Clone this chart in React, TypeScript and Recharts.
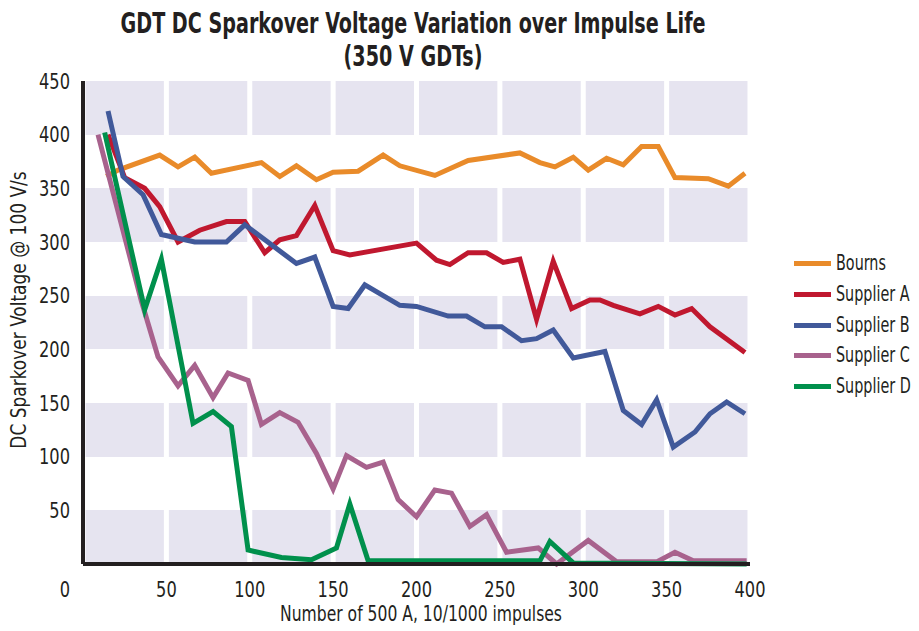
import React from 'react';
import { LineChart, Line, XAxis, YAxis, CartesianGrid, Legend } from 'recharts';

const FONT = "'Liberation Sans Narrow', 'DejaVu Sans Condensed', 'Liberation Sans', sans-serif";
const INK = '#231f20';
// horizontal squeeze applied to the text to get a narrow, condensed look
const SQUEEZE = 0.86;

// Axis ticks
const xTicks = [0, 50, 100, 150, 200, 250, 300, 350, 400];
const yTicks = [50, 100, 150, 200, 250, 300, 350, 400, 450];

// Measured DC sparkover voltage (V) against impulse count, one list per supplier: [impulses, volts]
const bourns: [number, number][] = [
  [14, 361], [21, 367], [46, 381], [57, 370], [67, 379], [77, 364], [107, 374], [118, 361],
  [128, 371], [140, 358], [150, 365], [165, 366], [180, 381], [190, 371], [211, 362], [231, 376],
  [262, 383], [274, 374], [283, 370], [294, 379], [303, 367], [314, 378], [324, 372], [335, 389],
  [345, 389], [355, 360], [375, 359], [387, 352], [397, 364],
];

const supplierA: [number, number][] = [
  [15, 400], [25, 360], [37, 350], [46, 333], [57, 300], [70, 311], [86, 319], [97, 319],
  [109, 290], [118, 302], [128, 306], [139, 334], [150, 292], [160, 288], [200, 299], [212, 283],
  [220, 279], [231, 290], [242, 290], [252, 281], [262, 284], [272, 228], [282, 282], [293, 238],
  [304, 246], [310, 246], [318, 241], [334, 233], [345, 240], [355, 232], [365, 238], [376, 221],
  [397, 197],
];

const supplierB: [number, number][] = [
  [15, 422], [24, 361], [36, 344], [47, 307], [67, 300], [86, 300], [97, 316], [128, 280],
  [139, 286], [150, 240], [159, 238], [169, 260], [190, 241], [200, 240], [219, 231], [230, 231],
  [241, 221], [251, 221], [263, 208], [272, 210], [282, 218], [294, 192], [313, 198], [324, 143],
  [335, 130], [344, 153], [354, 109], [367, 123], [376, 140], [386, 151], [397, 140],
];

const supplierC: [number, number][] = [
  [9, 400], [35, 245], [45, 193], [57, 166], [67, 185], [78, 155], [87, 178], [99, 171],
  [107, 130], [118, 141], [129, 132], [140, 103], [150, 70], [158, 101], [170, 90], [180, 95],
  [189, 60], [200, 44], [211, 69], [221, 66], [232, 35], [242, 46], [254, 11], [273, 15],
  [284, 0], [303, 22], [320, 2], [344, 2], [355, 11], [366, 3], [398, 3],
];

const supplierD: [number, number][] = [
  [13, 402], [37, 237], [47, 284], [66, 131], [78, 142], [89, 128], [99, 13], [119, 6],
  [137, 4], [152, 15], [160, 56], [171, 3], [274, 3], [280, 21], [294, 1], [398, 0],
];

const seriesNames = ['Bourns', 'Supplier A', 'Supplier B', 'Supplier C', 'Supplier D'];
const seriesColors = ['#e98b2a', '#c0182f', '#41599a', '#a8628d', '#00904c'];
const seriesPoints = [bourns, supplierA, supplierB, supplierC, supplierD];

const toRows = (pts: [number, number][]) => pts.map(([x, y]) => ({ x, y }));

// Bottom tick labels; the zero sits left of the vertical axis line
const XTick = (props: any) => {
  const { x, y, payload } = props;
  const v = payload.value;
  const cx = v === 0 ? x - 18 : x;
  return (
    <text
      transform={`translate(${cx},${y + 25}) scale(${SQUEEZE},1)`}
      textAnchor="middle"
      fill={INK}
      fontSize={21}
      fontFamily={FONT}
    >
      {v}
    </text>
  );
};

const YTick = (props: any) => {
  const { x, y, payload } = props;
  return (
    <text
      transform={`translate(${x},${y}) scale(${SQUEEZE},1)`}
      dy="0.36em"
      textAnchor="end"
      fill={INK}
      fontSize={21}
      fontFamily={FONT}
    >
      {payload.value}
    </text>
  );
};

const YTitle = () => (
  <text
    transform={`translate(26,310) rotate(-90) scale(${SQUEEZE},1)`}
    textAnchor="middle"
    fill={INK}
    fontSize={22}
    fontFamily={FONT}
  >
    DC Sparkover Voltage @ 100 V/s
  </text>
);

const XTitle = () => (
  <text
    transform="translate(421,621) scale(0.825,1)"
    textAnchor="middle"
    fill={INK}
    fontSize={21}
    fontFamily={FONT}
  >
    Number of 500 A, 10/1000 impulses
  </text>
);

const LegendContent = (props: any) => {
  const { payload } = props;
  return (
    <div style={{ fontFamily: FONT, fontSize: 21, color: INK, whiteSpace: 'nowrap', width: 125 }}>
      {(payload || []).map((p: any) => (
        <div key={p.value} style={{ height: 30.8, position: 'relative' }}>
          <span
            style={{ position: 'absolute', left: 0, top: 13, width: 37, height: 5, background: p.color }}
          />
          <span
            style={{
              position: 'absolute',
              left: 42,
              top: 0,
              lineHeight: '30.8px',
              transform: 'scaleX(0.76)',
              transformOrigin: '0 50%',
            }}
          >
            {p.value}
          </span>
        </div>
      ))}
    </div>
  );
};

export default function App() {
  return (
    <div style={{ position: 'absolute', left: 0, top: 0, width: 919, height: 631, overflow: 'hidden', background: '#fff' }}>
      <div
        style={{
          position: 'absolute',
          left: 0,
          top: 7,
          width: 826,
          textAlign: 'center',
          fontFamily: FONT,
          fontWeight: 'bold',
          fontSize: 28,
          lineHeight: '33px',
          color: INK,
          transform: 'scaleX(0.76)',
          transformOrigin: '413px 0',
        }}
      >
        <div>GDT DC Sparkover Voltage Variation over Impulse Life</div>
        <div>(350 V GDTs)</div>
      </div>
      <LineChart width={919} height={631} margin={{ top: 81, right: 169, left: 0, bottom: 0 }}>
        <CartesianGrid
          horizontal={(p: any) => <g key={p.key} />}
          horizontalFill={['#e6e4f0', '#ffffff']}
          stroke="#ffffff"
          strokeWidth={5}
        />
        <XAxis
          type="number"
          dataKey="x"
          domain={[0, 400]}
          ticks={xTicks}
          height={67}
          tickLine={false}
          axisLine={{ stroke: INK, strokeWidth: 4 }}
          tick={<XTick />}
          label={<XTitle />}
        />
        <YAxis
          type="number"
          domain={[0, 450]}
          ticks={yTicks}
          width={83}
          tickLine={false}
          tickMargin={7}
          axisLine={{ stroke: INK, strokeWidth: 4 }}
          tick={<YTick />}
          label={<YTitle />}
        />
        {seriesPoints.map((pts, i) => (
          <Line
            key={seriesNames[i]}
            data={toRows(pts)}
            dataKey="y"
            name={seriesNames[i]}
            type="linear"
            stroke={seriesColors[i]}
            strokeWidth={5}
            dot={false}
            activeDot={false}
            isAnimationActive={false}
          />
        ))}
        <Legend
          layout="vertical"
          align="center"
          verticalAlign="middle"
          wrapperStyle={{ left: 794, top: 248, width: 125 }}
          content={<LegendContent />}
        />
      </LineChart>
    </div>
  );
}
